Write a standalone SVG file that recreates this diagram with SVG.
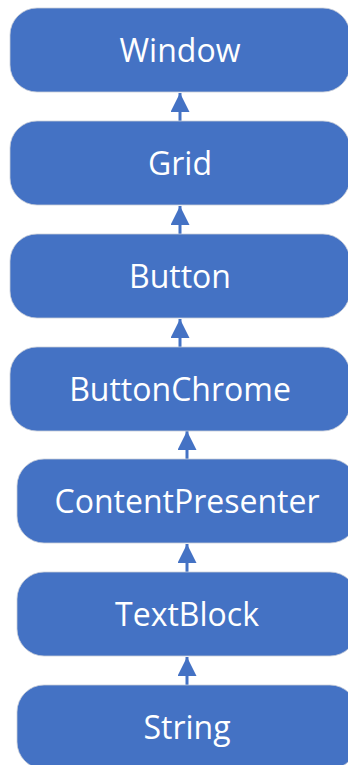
<svg xmlns="http://www.w3.org/2000/svg" width="348" height="765" viewBox="0 0 348 765">
<style>
.box{fill:#4472C4;stroke:#c9ced8;stroke-width:0.8}
.lbl{fill:#ffffff;font-family:"Open Sans","Noto Sans",sans-serif;font-size:32px;text-anchor:middle}
.conn{stroke:#4472C4;stroke-width:3;fill:none}
</style>
<defs>
<marker id="ah" markerUnits="userSpaceOnUse" markerWidth="19" markerHeight="19" viewBox="0 0 19 19" refX="19" refY="9.5" orient="auto">
<path d="M0,0 L19,9.5 L0,19 z" fill="#4472C4"/>
</marker>
</defs>
<rect width="348" height="765" fill="#ffffff"/>
<g id="connectors">
<line class="conn" x1="180" y1="121" x2="180" y2="93" marker-end="url(#ah)"/>
<line class="conn" x1="180" y1="234" x2="180" y2="206" marker-end="url(#ah)"/>
<line class="conn" x1="180" y1="347" x2="180" y2="319" marker-end="url(#ah)"/>
<line class="conn" x1="187" y1="459" x2="187" y2="431" marker-end="url(#ah)"/>
<line class="conn" x1="187" y1="572" x2="187" y2="544" marker-end="url(#ah)"/>
<line class="conn" x1="187" y1="685" x2="187" y2="657" marker-end="url(#ah)"/>
</g>
<g id="window"><rect class="box" x="10" y="8" width="340" height="84" rx="27"/><text class="lbl" x="180" y="62">Window</text></g>
<g id="grid"><rect class="box" x="10" y="121" width="340" height="84" rx="27"/><text class="lbl" x="180" y="175">Grid</text></g>
<g id="button"><rect class="box" x="10" y="234" width="340" height="84" rx="27"/><text class="lbl" x="180" y="288">Button</text></g>
<g id="buttonchrome"><rect class="box" x="10" y="347" width="340" height="84" rx="27"/><text class="lbl" x="180" y="401">ButtonChrome</text></g>
<g id="contentpresenter"><rect class="box" x="17" y="459" width="340" height="84" rx="27"/><text class="lbl" x="187" y="513">ContentPresenter</text></g>
<g id="textblock"><rect class="box" x="17" y="572" width="340" height="84" rx="27"/><text class="lbl" x="187" y="626">TextBlock</text></g>
<g id="string"><rect class="box" x="17" y="685" width="340" height="84" rx="27"/><text class="lbl" x="187" y="739">String</text></g>
</svg>
